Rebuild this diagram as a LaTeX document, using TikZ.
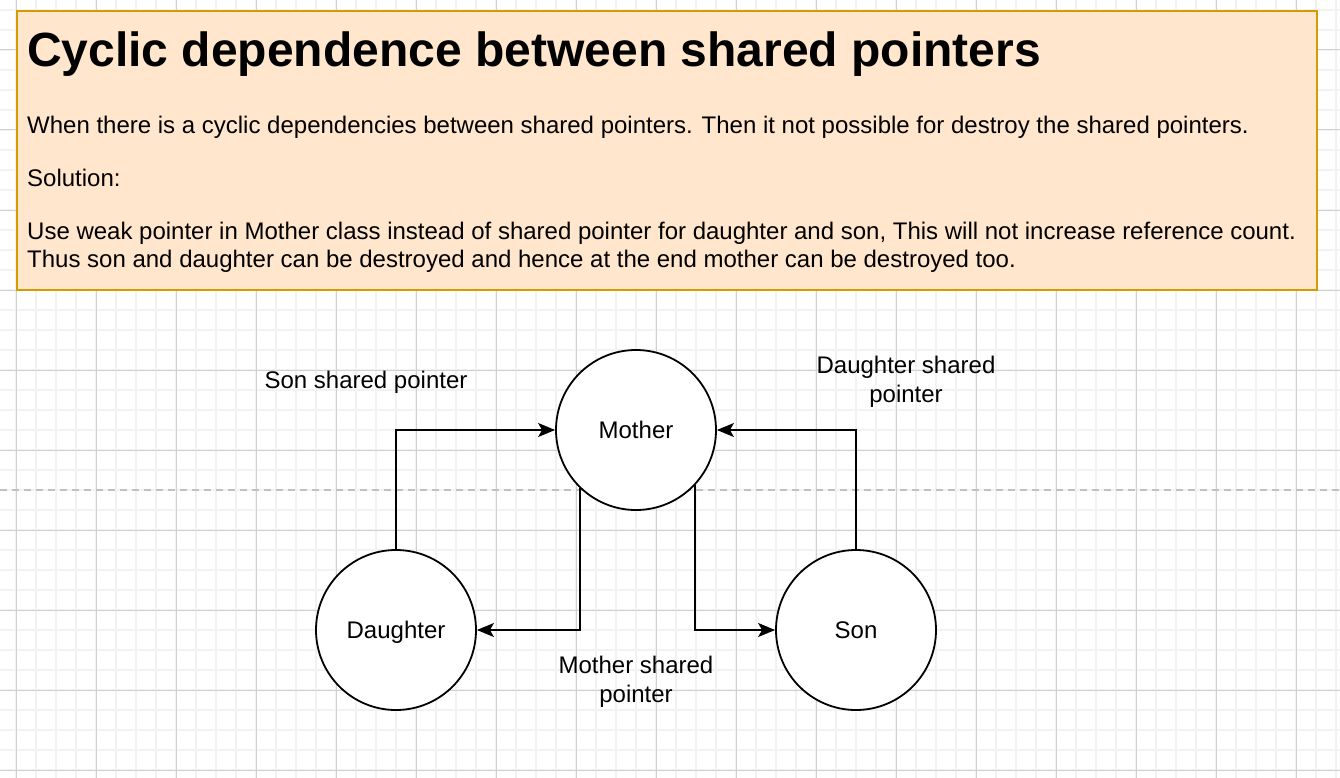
\documentclass[tikz,border=0pt]{standalone}
\usepackage{fontspec}
\setmainfont{Liberation Sans}
\usetikzlibrary{arrows.meta}

\definecolor{boxfill}{HTML}{FFE6CC}
\definecolor{boxline}{HTML}{D79B00}
\definecolor{gridminor}{HTML}{F2F2F2}
\definecolor{gridmajor}{HTML}{D0D0D0}
\definecolor{dashline}{HTML}{C0C0C0}

\tikzset{
  person/.style={circle, draw, line width=1.8pt, fill=white, minimum size=160pt,
    inner sep=0pt, text depth=0pt, font=\fontsize{24}{28}\selectfont},
  ptr/.style={line width=1.8pt, -{Stealth[length=17pt, width=14pt, inset=4pt]}},
  ptrlabel/.style={align=center, font=\fontsize{24}{29}\selectfont},
  bodytext/.style={anchor=base west, inner sep=0pt,
    font=\fontsize{24}{28}\selectfont}
}

\begin{document}
\begin{tikzpicture}[x=1pt,y=-1pt]
      \useasboundingbox (0,0) rectangle (1340,778);
      \fill [white] (0,0) rectangle (1340,778);

      % background grid
      \foreach \x in {16,36,...,1336}
        \draw [gridminor, line width=1.5pt] (\x,0) -- (\x,778);
      \foreach \y in {10,30,...,770}
        \draw [gridminor, line width=1.5pt] (0,\y) -- (1340,\y);
      \foreach \x in {16,96,...,1336}
        \draw [gridmajor, line width=1pt] (\x,0) -- (\x,778);
      \foreach \y in {50,130,...,770}
        \draw [gridmajor, line width=1pt] (0,\y) -- (1340,\y);
      \draw [dashline, line width=1.5pt, dash pattern=on 7pt off 5pt] (0,490) -- (1340,490);

      % note box
      \filldraw [fill=boxfill, draw=boxline, line width=2pt] (17,11) rectangle (1317,290);
      \node [bodytext, font=\fontsize{48}{52}\selectfont\bfseries] (title) at (27,67)
        {Cyclic dependence between shared pointers};
      \node [bodytext] (intro) at (27,134)
        {When there is a cyclic dependencies between shared pointers. Then it not possible for destroy the shared pointers.};
      \node [bodytext] (solution) at (27,186) {Solution:};
      \node [bodytext] (fix) at (27,239)
        {Use weak pointer in Mother class instead of shared pointer for daughter and son, This will not increase reference count.};
      \node [bodytext] (fixmore) at (27,267)
        {Thus son and daughter can be destroyed and hence at the end mother can be destroyed too.};

      % objects
      \node [person] (mother) at (636,430) {Mother};
      \node [person] (daughter) at (396,630) {Daughter};
      \node [person] (son) at (856,630) {Son};

      \draw [ptr] (daughter.north) |- (mother.west);
      \draw [ptr] (son.north) |- (mother.east);
      \draw [ptr] (mother.-134.4) |- (daughter.east);
      \draw [ptr] (mother.-43.5) |- (son.west);

      \node [ptrlabel] (sonptr) at (366,382) {Son shared pointer};
      \node [ptrlabel] (daughterptr) at (906,382) {Daughter shared\\pointer};
      \node [ptrlabel] (motherptr) at (636,682) {Mother shared\\pointer};
    \end{tikzpicture}
\end{document}
